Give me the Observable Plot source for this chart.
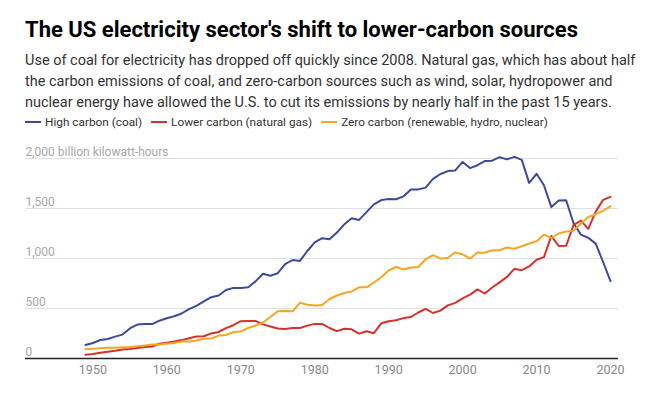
<!DOCTYPE html>
<html>
<head>
<meta charset="utf-8">
<script src="https://cdn.jsdelivr.net/npm/d3@7"></script>
<script src="https://cdn.jsdelivr.net/npm/@observablehq/plot@0.6"></script>
<style>
  html, body { margin: 0; padding: 0; background: #fff; }
  body { font-family: Roboto, "Noto Sans", sans-serif; width: 655px; height: 394px; overflow: hidden; }
  .wrap { padding-left: 25px; }
  h1 { margin: 16px 0 0 0; font-size: 22px; line-height: 27px; font-weight: 700; color: #000; letter-spacing: 0; white-space: nowrap; }
  .sub { margin: 7px 0 0 0; font-size: 14.5px; line-height: 21px; color: #333; white-space: nowrap; }
  .legend { margin-top: 0; height: 18px; line-height: 18px; font-size: 11.8px; color: #333; display: flex; align-items: center; white-space: nowrap; }
  .legend span.item { display: inline-flex; align-items: center; margin-right: 9px; }
  .legend i { display: inline-block; width: 16px; height: 2.5px; margin-right: 4px; }
  #chart svg { display: block; }
</style>
</head>
<body>
<div class="wrap">
  <h1>The US electricity sector's shift to lower-carbon sources</h1>
  <div class="sub">Use of coal for electricity has dropped off quickly since 2008. Natural gas, which has about half<br>the carbon emissions of coal, and zero-carbon sources such as wind, solar, hydropower and<br>nuclear energy have allowed the U.S. to cut its emissions by nearly half in the past 15 years.</div>
  <div class="legend" id="legend"></div>
</div>
<div id="chart"></div>
<script>
const years = d3.range(1949, 2021);
const seriesNames = ["High carbon (coal)", "Lower carbon (natural gas)", "Zero carbon (renewable, hydro, nuclear)"];
const seriesColors = ["#3d4a9c", "#d8312a", "#f5a623"];
const coal = [135,155,185,195,219,239,301,339,346,344,
  378,403,422,450,494,526,571,613,630,685,
  706,704,713,771,848,828,853,944,985,976,
  1075,1162,1203,1192,1259,1342,1402,1386,1464,1541,
  1584,1594,1592,1621,1690,1691,1709,1796,1845,1874,
  1881,1966,1904,1933,1974,1978,2013,1991,2016,1986,
  1756,1847,1733,1514,1581,1582,1352,1239,1206,1149,
  965,774];
const naturalGas = [37,45,57,67,77,91,95,104,114,120,
  147,158,170,184,202,220,222,251,265,304,
  333,373,374,376,341,320,300,295,306,305,
  329,346,346,305,274,297,292,249,273,253,
  352,373,382,404,415,460,496,455,479,531,
  556,601,639,691,650,710,761,816,897,883,
  921,988,1014,1226,1125,1127,1335,1379,1297,1469,
  1586,1617];
const zeroCarbon = [92,97,102,107,108,112,116,122,130,140,
  140,148,155,170,169,181,197,199,229,235,
  264,269,305,330,360,415,473,476,472,557,
  537,530,535,595,630,655,670,712,712,760,
  812,880,915,890,910,915,993,1033,998,1008,
  1060,1042,998,1060,1057,1082,1083,1110,1097,1123,
  1150,1172,1238,1205,1250,1270,1277,1350,1415,1443,
  1476,1523];
const yTicks = [0, 500, 1000, 1500, 2000];
const yTickLabels = ["0", "500", "1,000", "1,500", "2,000 billion kilowatt-hours"];
const xTicks = [1950, 1960, 1970, 1980, 1990, 2000, 2010, 2020];

const allValues = [coal, naturalGas, zeroCarbon];
const rows = [];
allValues.forEach((vals, si) => {
  vals.forEach((v, i) => rows.push({year: years[i], value: v, series: seriesNames[si]}));
});

const legend = document.getElementById("legend");
seriesNames.forEach((name, i) => {
  const s = document.createElement("span");
  s.className = "item";
  s.innerHTML = `<i style="background:${seriesColors[i]}"></i>${name}`;
  legend.appendChild(s);
});

const chart = Plot.plot({
  width: 655,
  height: 264,
  marginLeft: 25,
  marginRight: 37,
  marginTop: 27,
  marginBottom: 37,
  insetLeft: 60,
  insetRight: 8,
  style: {fontFamily: "Roboto, sans-serif", background: "#fff"},
  x: {domain: [1949, 2020], axis: null},
  y: {domain: [0, 2000], axis: null},
  color: {domain: seriesNames, range: seriesColors},
  marks: [
    Plot.ruleY(yTicks.filter(d => d > 0), {stroke: "#e0e0e0", strokeWidth: 1}),
    Plot.text(yTicks, {y: d => d, text: (d, i) => yTickLabels[i], frameAnchor: "left", textAnchor: "start", lineAnchor: "bottom", dy: -3, fill: "#a8a8a8", fontSize: 12}),
    Plot.line(rows, {x: "year", y: "value", z: "series", stroke: "series", strokeWidth: 2, curve: "linear"}),
    Plot.ruleY([0], {stroke: "#222", strokeWidth: 1.5}),
    Plot.text(xTicks, {x: d => d, frameAnchor: "bottom", lineAnchor: "top", dy: 7, text: d => String(d), fill: "#888", fontSize: 12.5})
  ]
});
document.getElementById("chart").appendChild(chart);
</script>
</body>
</html>
